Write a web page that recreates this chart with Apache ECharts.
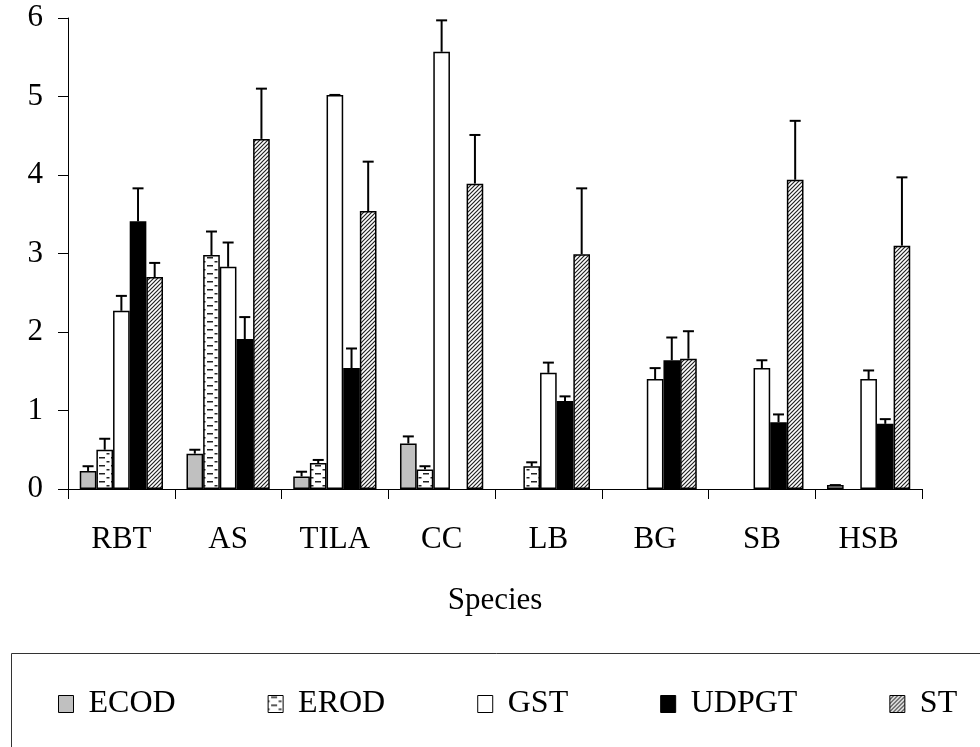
<!DOCTYPE html>
<html>
<head>
<meta charset="utf-8">
<script src="https://cdn.jsdelivr.net/npm/echarts@6/dist/echarts.min.js"></script>
<style>
  html, body { margin: 0; padding: 0; background: #fff; }
  #main { width: 980px; height: 747px; }
</style>
</head>
<body>
<div id="main"></div>
<script>
var species = ['RBT', 'AS', 'TILA', 'CC', 'LB', 'BG', 'SB', 'HSB'];
var seriesNames = ['ECOD', 'EROD', 'GST', 'UDPGT', 'ST'];

var ecod  = [0.23, 0.45, 0.16, 0.58, null, null, null, 0.05];
var erod  = [0.50, 2.98, 0.33, 0.25, 0.29, null, null, null];
var gst   = [2.27, 2.83, 5.02, 5.57, 1.48, 1.40, 1.54, 1.40];
var udpgt = [3.41, 1.91, 1.54, null, 1.12, 1.64, 0.85, 0.83];
var st    = [2.70, 4.46, 3.54, 3.89, 2.99, 1.66, 3.94, 3.10];

// upper error (SE) for each bar
var ecodErr  = [0.06, 0.05, 0.06, 0.09, null, null, null, 0];
var erodErr  = [0.14, 0.30, 0.04, 0.04, 0.05, null, null, null];
var gstErr   = [0.19, 0.31, 0, 0.40, 0.13, 0.14, 0.10, 0.11];
var udpgtErr = [0.42, 0.28, 0.25, null, 0.06, 0.29, 0.10, 0.06];
var stErr    = [0.18, 0.64, 0.63, 0.62, 0.84, 0.35, 0.75, 0.87];

var yTicks = [0, 1, 2, 3, 4, 5, 6];

(function () {
    var FONT = '"Liberation Serif", "Times New Roman", serif';
    var CAT_GAP = 0.22;

    // fill patterns
    function makePattern(kind) {
        var c = document.createElement('canvas');
        var ctx;
        if (kind === 'hatch') {
            c.width = 4; c.height = 4;
            ctx = c.getContext('2d');
            ctx.fillStyle = '#fff';
            ctx.fillRect(0, 0, 4, 4);
            ctx.strokeStyle = '#222';
            ctx.lineWidth = 1.2;
            ctx.beginPath();
            ctx.moveTo(-1, 5); ctx.lineTo(5, -1);
            ctx.moveTo(-1, 1); ctx.lineTo(1, -1);
            ctx.moveTo(3, 5); ctx.lineTo(5, 3);
            ctx.stroke();
        } else {
            c.width = 12; c.height = 8;
            ctx = c.getContext('2d');
            ctx.fillStyle = '#fff';
            ctx.fillRect(0, 0, 12, 8);
            ctx.fillStyle = '#222';
            ctx.fillRect(3, 1, 6, 1.5);
            ctx.fillRect(0, 5, 1.5, 1.5);
            ctx.fillRect(10.5, 5, 1.5, 1.5);
        }
        return { image: c, repeat: 'repeat' };
    }

    var values = [ecod, erod, gst, udpgt, st];
    var errors = [ecodErr, erodErr, gstErr, udpgtErr, stErr];
    var fills = ['#c0c0c0', makePattern('dash'), '#ffffff', '#000000', makePattern('hatch')];

    var series = [];
    seriesNames.forEach(function (name, k) {
        series.push({
            name: name,
            type: 'bar',
            data: values[k],
            barGap: '0%',
            barCategoryGap: (CAT_GAP * 100) + '%',
            itemStyle: { color: fills[k], borderColor: '#000', borderWidth: 1.5 },
            emphasis: { disabled: true }
        });
    });

    var errData = [];
    values.forEach(function (arr, k) {
        arr.forEach(function (v, i) {
            if (v != null && errors[k][i] != null) {
                errData.push([i, k, v, errors[k][i]]);
            }
        });
    });

    series.push({
        type: 'custom',
        name: 'err',
        data: errData,
        encode: { x: 0, y: 2 },
        z: 5,
        silent: true,
        renderItem: function (params, api) {
            var cat = api.value(0), k = api.value(1), v = api.value(2), e = api.value(3);
            var base = api.coord([cat, v]);
            var top = api.coord([cat, v + e]);
            var band = api.size([1, 0])[0];
            var bw = band * (1 - CAT_GAP) / 5;
            var x = base[0] - band * (1 - CAT_GAP) / 2 + (k + 0.5) * bw;
            var st = { stroke: '#000', lineWidth: 2 };
            return {
                type: 'group',
                children: [
                    { type: 'line', shape: { x1: x, y1: base[1], x2: x, y2: top[1] }, style: st },
                    { type: 'line', shape: { x1: x - 5.5, y1: top[1], x2: x + 5.5, y2: top[1] }, style: st }
                ]
            };
        }
    });

    var myChart = echarts.init(document.getElementById('main'));
    myChart.setOption({
        animation: false,
        backgroundColor: '#fff',
        textStyle: { fontFamily: FONT, color: '#000' },
        grid: { left: 68, right: 58, top: 18, bottom: 258, containLabel: false },
        legend: {
            data: seriesNames,
            icon: 'rect',
            left: 53,
            top: 683,
            itemWidth: 15,
            itemHeight: 17,
            itemGap: 92,
            textStyle: { fontFamily: FONT, fontSize: 32, color: '#000', padding: [0, 0, 0, 10] },
            itemStyle: { borderColor: '#000', borderWidth: 1 }
        },
        graphic: [{
            type: 'rect',
            left: 9,
            top: 651,
            shape: { width: 1000, height: 200 },
            style: { fill: null, stroke: '#333', lineWidth: 1 },
            silent: true,
            z: -1
        }],
        xAxis: {
            type: 'category',
            data: species,
            name: 'Species',
            nameLocation: 'middle',
            nameGap: 96,
            nameTextStyle: { fontFamily: FONT, fontSize: 31, color: '#000' },
            axisLine: { lineStyle: { color: '#000', width: 1 } },
            axisTick: { show: true, length: 10, lineStyle: { color: '#000' } },
            axisLabel: { fontFamily: FONT, fontSize: 31, color: '#000', margin: 35 },
            splitLine: { show: false }
        },
        yAxis: {
            type: 'value',
            min: yTicks[0],
            max: yTicks[yTicks.length - 1],
            interval: 1,
            axisLine: { show: true, lineStyle: { color: '#000', width: 1 } },
            axisTick: { show: true, length: 10, lineStyle: { color: '#000' } },
            axisLabel: { fontFamily: FONT, fontSize: 31, color: '#000', margin: 25 },
            splitLine: { show: false }
        },
        series: series
    });
})();
</script>
</body>
</html>
